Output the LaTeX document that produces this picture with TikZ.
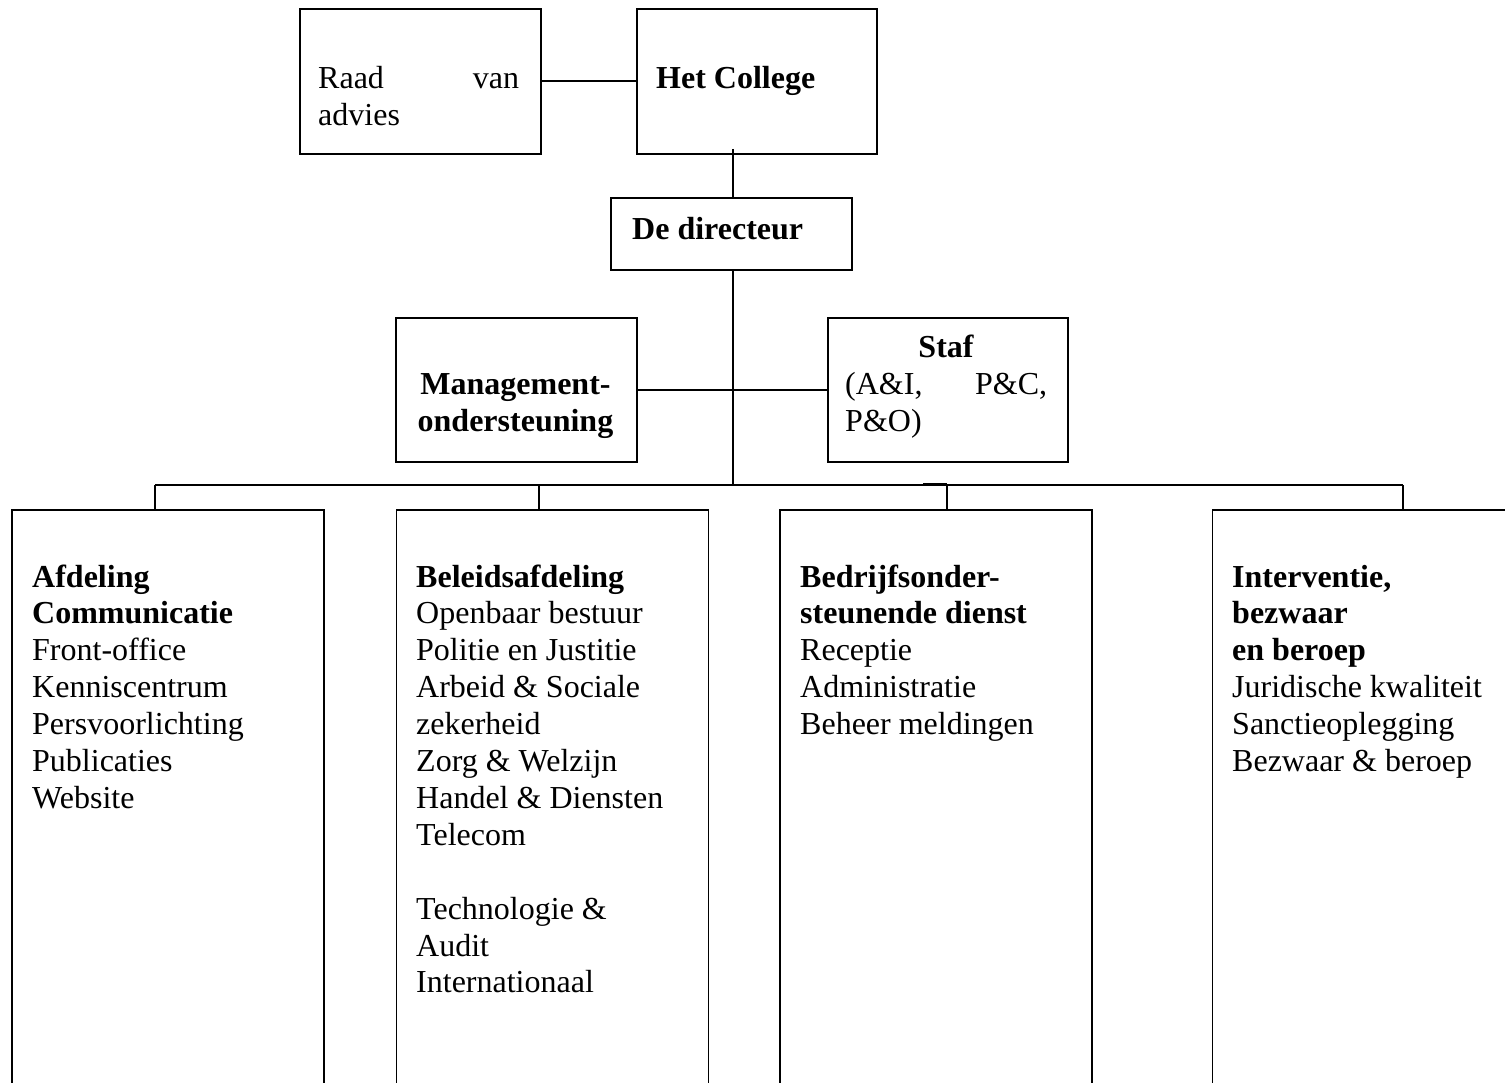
\documentclass[tikz,border=0pt]{standalone}
\usepackage{fontspec}
\setmainfont{Liberation Serif}
\begin{document}
\begin{tikzpicture}[x=1pt,y=-1pt,
  box/.style={draw=black,line width=1.6pt,rectangle,inner sep=0pt,anchor=north west},
  txt/.style={inner sep=0pt,anchor=base west,font=\fontsize{32}{36.9}\selectfont},
  ctxt/.style={inner sep=0pt,anchor=base,font=\fontsize{32}{37.5}\selectfont},
  link/.style={draw=black,line width=1.6pt}]
\useasboundingbox (0,0) rectangle (1505,1083);
\clip (0,0) rectangle (1505,1083);
\fill[white] (0,0) rectangle (1505,1083);

% top level boxes
\node[box,minimum width=241pt,minimum height=145pt] (raad) at (299,8) {};
\node[box,minimum width=240pt,minimum height=145pt] (college) at (636,8) {};
\node[box,minimum width=241pt,minimum height=72pt] (dir) at (610,197) {};
\node[box,minimum width=241pt,minimum height=144pt] (mgmt) at (395,317) {};
\node[box,minimum width=240pt,minimum height=144pt] (staf) at (827,317) {};

% bottom boxes (open at the bottom of the page)
\node[box,minimum width=312pt,minimum height=640pt] (b1) at (11,509) {};
\node[box,minimum width=312pt,minimum height=640pt] (b2) at (395.5,509) {};
\node[box,minimum width=312pt,minimum height=640pt] (b3) at (779,509) {};
\node[box,minimum width=400pt,minimum height=640pt] (b4) at (1211.5,509) {};

% texts
\node[txt] (raadtxt) at (318,89) {\parbox[t]{201pt}{Raad\hfill van\\advies}};
\node[txt] (collegetxt) at (656,89) {\textbf{Het College}};
\node[txt] (dirtxt) at (632,240) {\textbf{De directeur}};
\node[ctxt] (mgmttxt) at (515.5,394) {\parbox[t]{241pt}{\centering\bfseries Management-\\ondersteuning}};
\node[txt] (staftxt) at (845,358) {\parbox[t]{202pt}{{\centering\textbf{Staf}\par}\noindent(A\&I,\hfill P\&C,\\P\&O)}};

\node[txt] (t1) at (32,587) {\parbox[t]{290pt}{\raggedright\textbf{Afdeling}\\\textbf{Communicatie}\\Front-office\\Kenniscentrum\\Persvoorlichting\\Publicaties\\Website}};
\node[txt] (t2) at (416,587) {\parbox[t]{290pt}{\raggedright\textbf{Beleidsafdeling}\\Openbaar bestuur\\Politie en Justitie\\Arbeid \& Sociale\\zekerheid\\Zorg \& Welzijn\\Handel \& Diensten\\Telecom\\\mbox{}\\Technologie \&\\Audit\\Internationaal}};
\node[txt] (t3) at (800,587) {\parbox[t]{290pt}{\raggedright\textbf{Bedrijfsonder-}\\\textbf{steunende dienst}\\Receptie\\Administratie\\Beheer meldingen}};
\node[txt] (t4) at (1232,587) {\parbox[t]{290pt}{\raggedright\textbf{Interventie,}\\\textbf{bezwaar}\\\textbf{en beroep}\\Juridische kwaliteit\\Sanctieoplegging\\Bezwaar \& beroep}};

% connectors
\coordinate (cd) at (733,149);
\coordinate (bus) at (733,485);
\coordinate (d1) at (155,485);
\coordinate (d2) at (539,485);
\coordinate (d3) at (947,485);
\coordinate (d4) at (1403,485);
\coordinate (thk) at (923,484.6);

\draw[link] (raad.east) -- (college.west);
\draw[link] (cd) -- (cd |- dir.north);
\draw[link] (cd |- dir.south) -- (bus);
\draw[link] (mgmt.east) -- (staf.west);
\draw[link] (d1) -- (d4);
\draw[link] (d1) -- (d1 |- b1.north);
\draw[link] (d2) -- (d2 |- b2.north);
\draw[link] (d3) -- (d3 |- b3.north);
\draw[link] (d4) -- (d4 |- b4.north);
\draw[draw=black,line width=2.6pt] (thk) -- (thk -| d3);
\end{tikzpicture}
\end{document}
